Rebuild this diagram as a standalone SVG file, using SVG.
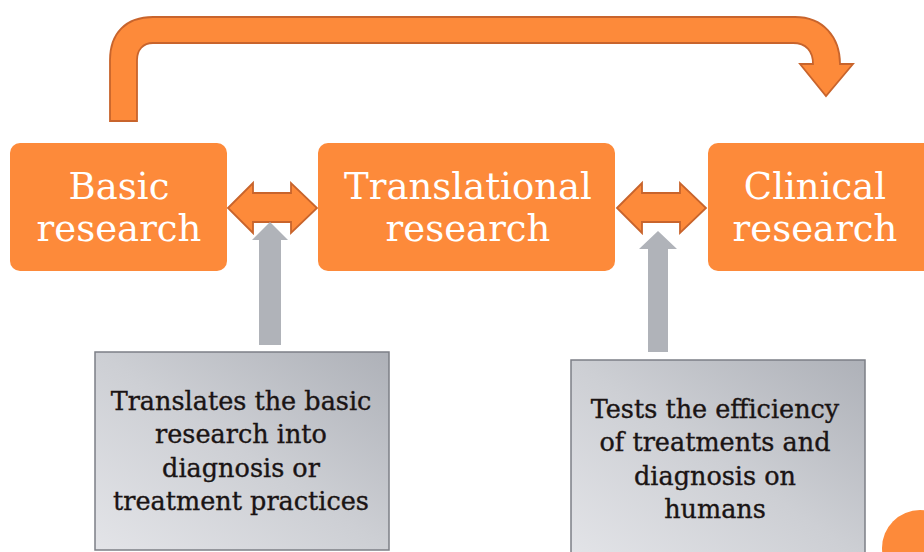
<svg xmlns="http://www.w3.org/2000/svg" width="924" height="552" viewBox="0 0 924 552">
  <defs>
    <linearGradient id="grayFill" x1="0" y1="1" x2="1" y2="0">
      <stop offset="0" stop-color="#e3e4e8"/>
      <stop offset="0.5" stop-color="#cdcfd4"/>
      <stop offset="1" stop-color="#aeb1b8"/>
    </linearGradient>
    <style>
      .stage { fill: #fd8a3a; }
      .stage-label { font-family: "DejaVu Serif", "Liberation Serif", serif; font-size: 37px; fill: #ffffff; text-anchor: middle; }
      .orange-arrow { fill: #fd8a3a; stroke: #c8642c; stroke-width: 1.8; stroke-linejoin: miter; }
      .gray-arrow { fill: #b0b3b9; }
      .note { fill: url(#grayFill); stroke: #7c7f86; stroke-width: 1.5; }
      .note-text { font-family: "DejaVu Serif", "Liberation Serif", serif; font-size: 25.5px; fill: #1a1414; stroke: #1a1414; stroke-width: 0.35; text-anchor: middle; }
    </style>
  </defs>

  <!-- connectors -->
  <g id="connectors">
    <!-- long bent arrow from basic research over to clinical research -->
    <path class="orange-arrow" d="M110,121 L110,60 C110,33 126,17 153,17 L795,17 C823,17 840,37 840,64 L853,64 L826,96 L800,64 L813,64 C813,51 806,43 793,43 L153,43 C143,43 137,50 137,60 L137,121 Z"/>
    <!-- two-way arrows between stages -->
    <path class="orange-arrow" d="M228,208 L253,183 L253,193 L291,193 L291,183 L317,208 L291,233 L291,222 L253,222 L253,233 Z"/>
    <path class="orange-arrow" d="M617,208 L642,183 L642,193 L680,193 L680,183 L706,208 L680,233 L680,222 L642,222 L642,233 Z"/>
    <!-- upward arrows from notes -->
    <path class="gray-arrow" d="M270,222 L288,240 L281,240 L281,345 L259,345 L259,240 L252,240 Z"/>
    <path class="gray-arrow" d="M658,231 L677,249 L668,249 L668,352 L648,352 L648,249 L639,249 Z"/>
  </g>

  <g id="basic">
    <rect class="stage" x="10" y="143" width="217" height="128" rx="10"/>
    <text class="stage-label" x="119" y="199">Basic</text>
    <text class="stage-label" x="119" y="241">research</text>
  </g>

  <g id="translational">
    <rect class="stage" x="318" y="143" width="297" height="128" rx="10"/>
    <text class="stage-label" x="468" y="199">Translational</text>
    <text class="stage-label" x="468" y="241">research</text>
  </g>

  <g id="clinical">
    <rect class="stage" x="708" y="143" width="230" height="128" rx="10"/>
    <text class="stage-label" x="815" y="199">Clinical</text>
    <text class="stage-label" x="815" y="241">research</text>
  </g>

  <g id="note-translational">
    <rect class="note" x="95" y="352" width="294" height="198"/>
    <text class="note-text" x="241" y="410">Translates the basic</text>
    <text class="note-text" x="241" y="443">research into</text>
    <text class="note-text" x="241" y="477">diagnosis or</text>
    <text class="note-text" x="241" y="510">treatment practices</text>
  </g>

  <g id="note-clinical">
    <rect class="note" x="571" y="360" width="294" height="200"/>
    <text class="note-text" x="715" y="418">Tests the efficiency</text>
    <text class="note-text" x="715" y="451">of treatments and</text>
    <text class="note-text" x="715" y="485">diagnosis on</text>
    <text class="note-text" x="715" y="518">humans</text>
  </g>

  <!-- corner ornament -->
  <circle cx="920" cy="548" r="38" fill="#fd8a3a"/>
</svg>
